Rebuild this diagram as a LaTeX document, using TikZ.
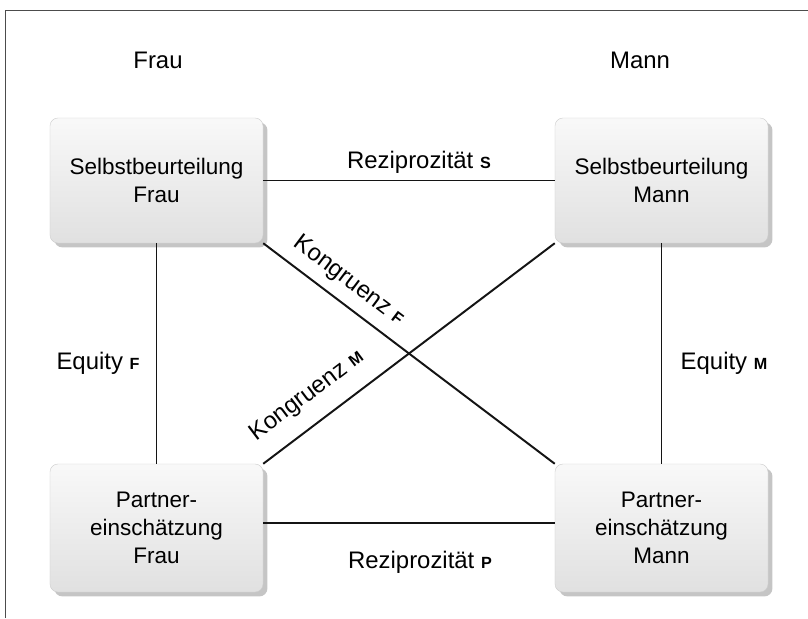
\documentclass[tikz,border=0pt]{standalone}
\usepackage{fontspec}
\setmainfont{Liberation Sans}
\usetikzlibrary{shadows}
\newcommand{\idx}[1]{{\fontsize{11.5}{11.5}\selectfont\bfseries #1}}
\tikzset{
	kasten/.style={rectangle, rounded corners=0.2cm, draw=gray!40, line width=0.3pt,
		top color=gray!5, bottom color=gray!24,
		drop shadow={shadow xshift=0.11cm, shadow yshift=-0.11cm, fill=gray!75, opacity=0.6},
		minimum width=5.325cm, align=center, font=\fontsize{16}{20}\selectfont},
	beziehung/.style={line width=1.4pt, color=black!92},
	etikett/.style={inner sep=0pt, font=\fontsize{17}{20}\selectfont}
}

\begin{document}
\begin{tikzpicture}[x=0.025cm, y=-0.025cm]
		%%%%% START %%%%%
		\useasboundingbox (0, 0) rectangle (808, 618);
		
		% frame
		\draw[line width=0.7pt, color=black!70] (5, 618) -- (5, 10) -- (808, 10);
		
		\node[etikett] (frau) at (158, 60) {Frau};
		\node[etikett] (mann) at (640, 60) {Mann};
		
		% the four boxes
		\node[kasten, minimum height=3.125cm] (sf) at (156.5, 180.5) {Selbstbeurteilung\\Frau};
		\node[kasten, minimum height=3.125cm] (sm) at (661.5, 180.5) {Selbstbeurteilung\\Mann};
		\node[kasten, minimum height=3.2cm] (pf) at (156.5, 528) {Partner-\\einschätzung\\Frau};
		\node[kasten, minimum height=3.2cm] (pm) at (661.5, 528) {Partner-\\einschätzung\\Mann};
		
		% relations
		\draw[beziehung] (sf.east) -- (sm.west);
		\draw[beziehung] ([yshift=0.125cm]pf.east) -- ([yshift=0.125cm]pm.west);
		\draw[beziehung] (sf.south) -- (pf.north);
		\draw[beziehung] (sm.south) -- (pm.north);
		\draw[beziehung] (sf.south east) -- (pm.north west);
		\draw[beziehung] (pf.north east) -- (sm.south west);
		
		\node[etikett] (rs) at (419, 162) {Reziprozität \idx{S}};
		\node[etikett] (rp) at (420, 562) {Reziprozität \idx{P}};
		\node[etikett] (ef) at (98, 363) {Equity \idx{F}};
		\node[etikett] (em) at (724, 363) {Equity \idx{M}};
		\node[etikett, rotate=-37.1] (kf) at (349, 281) {Kongruenz \idx{F}};
		\node[etikett, rotate=37.1] (km) at (307, 396) {Kongruenz \idx{M}};
		
		%%%%% END %%%%%
\end{tikzpicture}
\end{document}
